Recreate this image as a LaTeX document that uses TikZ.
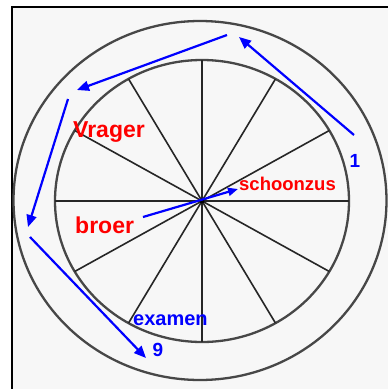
\documentclass[tikz,border=0pt]{standalone}
\usepackage{fontspec}
\setmainfont{Liberation Sans}
\usetikzlibrary{arrows.meta}
\begin{document}
\begin{tikzpicture}[x=1pt,y=-1pt,
  ring/.style={draw=black!72,line width=2.3pt},
  spoke/.style={draw=black!85,line width=1.6pt},
  barrow/.style={draw=blue,line width=2.2pt,-{Triangle[length=12pt,width=10pt]}},
  redlbl/.style={text=red,font=\bfseries,inner sep=0pt},
  bluelbl/.style={text=blue,font=\bfseries,inner sep=0pt}]
\useasboundingbox (0,0) rectangle (388,389);
\fill[white] (0,0) rectangle (388,389);
\fill[black!3] (12,7) rectangle (388,389);
\draw[line width=2pt] (12,389) -- (12,7) -- (388,7);
% circles
\draw[ring] (200,200.5) ellipse [x radius=186.5, y radius=179.5];
\draw[ring] (202,201) ellipse [x radius=147, y radius=141];
% spokes
\coordinate (c) at (202,201);
\foreach \a in {0,30,...,330}{
  \draw[spoke] (c) -- ({202+147*cos(\a)},{201+141*sin(\a)});
}
\fill (c) circle (2.5pt);
% labels
\node[redlbl,anchor=base west,font=\bfseries\fontsize{23}{23}\selectfont] (vrager) at (73,137) {Vrager};
\node[redlbl,anchor=base west,font=\bfseries\fontsize{23}{23}\selectfont] (broer) at (75,233) {broer};
\node[redlbl,anchor=base west,font=\bfseries\fontsize{18.5}{18}\selectfont] (schoonzus) at (239,190) {schoonzus};
\node[bluelbl,anchor=base west,font=\bfseries\fontsize{20}{20}\selectfont] (examen) at (133,325) {examen};
\node[bluelbl,anchor=base,font=\bfseries\fontsize{19}{19}\selectfont] (one) at (355,167) {1};
\node[bluelbl,anchor=base,font=\bfseries\fontsize{19}{19}\selectfont] (nine) at (158,356) {9};
% arrow points
\coordinate (a1s) at (354,135);
\coordinate (a1e) at (239,37);
\coordinate (a2s) at (227,35);
\coordinate (a2e) at (77,90);
\coordinate (a3s) at (68,99);
\coordinate (a3e) at (28,227);
\coordinate (a4s) at (30,237);
\coordinate (a4e) at (146,358);
\coordinate (a5s) at (143,217);
\coordinate (a5e) at (238,189);
\draw[barrow] (a1s) -- (a1e);
\draw[barrow] (a2s) -- (a2e);
\draw[barrow] (a3s) -- (a3e);
\draw[barrow] (a4s) -- (a4e);
\draw[barrow,-{Triangle[length=10pt,width=8pt]}] (a5s) -- (a5e);
\end{tikzpicture}
\end{document}
